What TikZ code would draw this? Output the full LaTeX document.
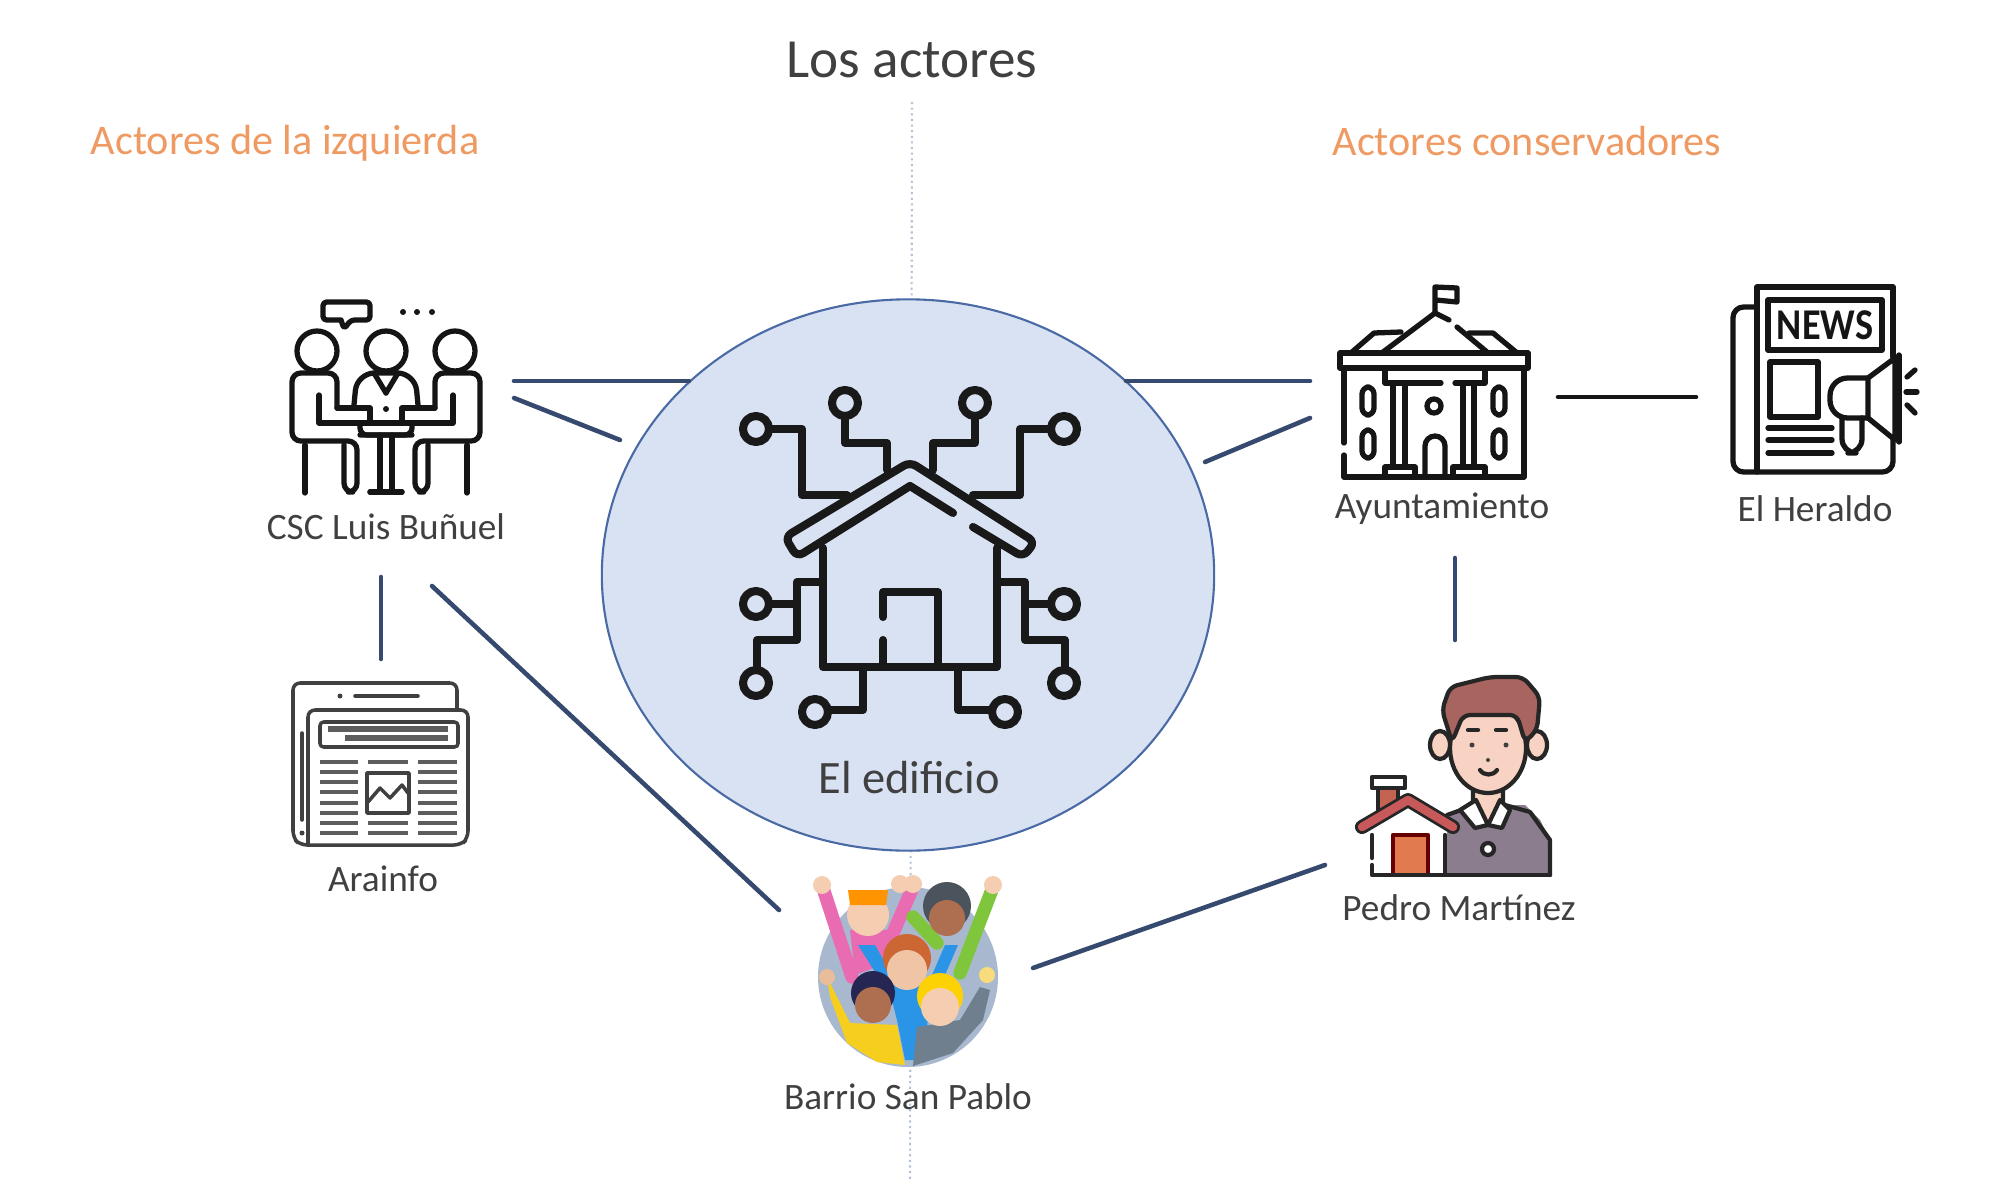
\documentclass[tikz,border=0pt]{standalone}
\usepackage{fontspec}
\usetikzlibrary{shapes.geometric}
\setmainfont{Carlito}
\definecolor{inktext}{HTML}{404040}
\definecolor{orangetext}{HTML}{EE9A62}
\definecolor{linkblue}{HTML}{36496F}
\definecolor{edificiofill}{HTML}{D9E2F3}
\definecolor{edificioline}{HTML}{4A6AA5}
\definecolor{axisline}{HTML}{B4C2D8}
\definecolor{inkicon}{HTML}{151515}
\definecolor{skin}{HTML}{F8D2C2}
\definecolor{hairbrown}{HTML}{A8645E}
\definecolor{shirtgrey}{HTML}{8C7D8E}
\definecolor{roofred}{HTML}{C7595A}
\definecolor{doororange}{HTML}{E27A50}
\definecolor{barriosky}{HTML}{A8B8CE}
\definecolor{barriopink}{HTML}{E96CB2}
\definecolor{barriogreen}{HTML}{80C63C}
\definecolor{barrioblue}{HTML}{2A94E6}
\definecolor{barrioyellow}{HTML}{F6CF1E}
\definecolor{barriogrey}{HTML}{6F7F8E}
\definecolor{fairskin}{HTML}{F5CDB0}
\definecolor{darkskin}{HTML}{AE6E50}
\tikzset{
  actorname/.style={text=inktext,font=\fontsize{10.6}{12}\selectfont,inner sep=0pt},
  heading/.style={text=orangetext,font=\fontsize{12}{14}\selectfont,inner sep=0pt},
  link/.style={draw=linkblue,line width=1.3pt,line cap=round},
  thin icon/.style={draw=inkicon,line width=1.5pt,line cap=round,line join=round},
  house icon/.style={draw=black!90,line width=2.3pt,line cap=round,line join=round},
  grey icon/.style={draw=inktext,line width=1pt,line cap=round,line join=round},
  grey row/.style={draw=inktext!85,line width=1.1pt},
  pedro/.style={draw=black!85,line width=1.2pt,line join=round,line cap=round},
  arm/.style={line width=3.8pt,line cap=round}
}
\begin{document}
\begin{tikzpicture}[x=0.01cm,y=-0.01cm]
\useasboundingbox (0,0) rectangle (2000,1179);

\draw[axisline,densely dotted,line width=0.6pt] (912,102) -- (910,1179);
\node[ellipse,draw=edificioline,fill=edificiofill,line width=0.6pt,minimum width=6.12cm,minimum height=5.51cm,inner sep=0pt] (edificio) at (908,575) {};

\node[text=inktext,font=\fontsize{15.7}{18}\selectfont,inner sep=0pt] (titulo) at (912,60) {Los actores};
\node[heading] (izquierda) at (285,143) {Actores de la izquierda};
\node[heading] (conservadores) at (1527,141) {Actores conservadores};
\node[actorname,font=\fontsize{13.2}{15}\selectfont] (edificiotxt) at (909,778) {El edificio};
\node[actorname] (csc) at (386,527) {CSC Luis Buñuel};
\node[actorname] (arainfo) at (383,879) {Arainfo};
\node[actorname] (ayto) at (1442,509) {Ayuntamiento};
\node[actorname] (heraldo) at (1815,509) {El Heraldo};
\node[actorname] (pedromtz) at (1459,908) {Pedro Martínez};
\node[actorname] (barrio) at (908,1097) {Barrio San Pablo};

\coordinate (cscA) at (514,381);
\coordinate (edifA) at (689,381);
\coordinate (cscB) at (514,398);
\coordinate (edifB) at (620,440);
\coordinate (aytoA) at (1310,381);
\coordinate (edifC) at (1126,381);
\coordinate (aytoB) at (1310,418);
\coordinate (edifD) at (1205,462);
\coordinate (aytoC) at (1558,397);
\coordinate (herC) at (1696,397);
\coordinate (aytoD) at (1455,558);
\coordinate (pedA) at (1455,640);
\coordinate (cscC) at (381,577);
\coordinate (araC) at (381,659);
\coordinate (cscD) at (432,586);
\coordinate (barA) at (779,910);
\coordinate (barB) at (1033,968);
\coordinate (pedB) at (1325,865);
\draw[link] (cscA) -- (edifA);
\draw[link] (cscB) -- (edifB);
\draw[link] (aytoA) -- (edifC);
\draw[link] (aytoB) -- (edifD);
\draw[link,draw=inkicon] (aytoC) -- (herC);
\draw[link] (aytoD) -- (pedA);
\draw[link] (cscC) -- (araC);
\draw[link] (cscD) -- (barA);
\draw[link] (barB) -- (pedB);

\foreach \x/\y in {756/429,845/403,975/403,1064/429,756/604,1064/604,756/683,1064/683,815/712,1005/712}
  \draw[house icon] (\x,\y) circle (13);
\draw[house icon] (771,429) -- (802,429) -- (802,495) -- (847,495);
\draw[house icon] (845,417) -- (845,443) -- (887,443) -- (887,470);
\draw[house icon] (975,417) -- (975,443) -- (933,443) -- (933,470);
\draw[house icon] (1049,429) -- (1020,429) -- (1020,495) -- (973,495);
\draw[house icon,rounded corners=2pt] (910,486) -- (797,557) -- (785,537) -- (910,462) -- (1035,542) -- (1023,557) -- (973,527);
\draw[house icon] (910,486) -- (953,513);
\draw[house icon] (823,548) -- (823,667) -- (997,667) -- (997,548);
\draw[house icon] (883,663) -- (883,640);
\draw[house icon] (883,617) -- (883,592) -- (938,592) -- (938,663);
\draw[house icon] (820,582) -- (797,582) -- (797,640) -- (757,640) -- (757,670);
\draw[house icon] (771,604) -- (797,604);
\draw[house icon] (1000,582) -- (1025,582) -- (1025,640) -- (1065,640) -- (1065,670);
\draw[house icon] (1025,604) -- (1049,604);
\draw[house icon] (863,670) -- (863,710) -- (830,710);
\draw[house icon] (958,670) -- (958,710) -- (990,710);

\foreach \s in {1,-1}{
\begin{scope}[shift={(386,0)},xscale=\s]
\draw[thin icon] (-69,351) circle (20);
\draw[thin icon,rounded corners=2.5pt] (-49,408) -- (-49,373) -- (-94,373) -- (-94,441) -- (-29,441) -- (-29,492) -- (-42,492) -- (-42,445);
\draw[thin icon] (-67,395) -- (-67,423) -- (-16,423) -- (-16,408) -- (-49,408);
\draw[thin icon] (-81,445) -- (-81,493);
\draw[thin icon] (-6,435) -- (-6,492);
\draw[thin icon] (-16,492) -- (16,492);
\draw[thin icon,rounded corners=2pt] (-26,423) -- (-26,435) -- (26,435);
\draw[thin icon] (-12,373) -- (0,393);
\end{scope}}
\draw[thin icon] (386,351) circle (20);
\draw[thin icon,rounded corners=5pt] (354,405) -- (357,373) -- (415,373) -- (418,405);
\draw[thin icon] (370,423) -- (402,423);
\fill[inkicon] (386,409) circle (3);
\draw[thin icon,rounded corners=1pt] (341,320) -- (323,320) -- (323,302) -- (370,302) -- (370,320) -- (351,320) -- (344,329) -- (341,320);
\foreach \x in {403,417,432}
  \fill[inkicon] (\x,312) circle (3);

\draw[grey icon,rounded corners=2pt] (457,708) -- (457,683) -- (293,683) -- (293,838) -- (300,845) -- (461,845) -- (468,838) -- (468,710) -- (308,710) -- (308,843);
\draw[grey icon] (302,733) -- (302,820);
\fill[inktext] (302,833) circle (2.5);
\fill[inktext] (340,696) circle (2.5);
\draw[grey icon] (355,696) -- (418,696);
\draw[grey icon,rounded corners=1pt] (320,722) rectangle (458,747);
\draw[grey row,line width=1.5pt] (328,729) -- (448,729);
\draw[grey row,line width=1.5pt] (345,738) -- (448,738);
\foreach \y in {762,772,782,792,803,813,823,833}{
  \draw[grey row] (320,\y) -- (358,\y);
  \draw[grey row] (418,\y) -- (457,\y);
}
\foreach \y in {762,823,833}
  \draw[grey row] (368,\y) -- (408,\y);
\draw[grey icon] (367,773) rectangle (409,813);
\draw[grey icon] (368,802) -- (380,788) -- (390,798) -- (402,785) -- (408,793);

\draw[thin icon] (1340,353) rectangle (1528,368);
\draw[thin icon] (1344,368) -- (1344,443);
\draw[thin icon] (1344,455) -- (1344,477) -- (1524,477) -- (1524,368);
\draw[thin icon] (1352,352) -- (1374,333) -- (1401,332);
\draw[thin icon] (1516,352) -- (1493,333) -- (1469,333);
\draw[thin icon] (1383,352) -- (1435,313) -- (1449,320);
\draw[thin icon] (1457,327) -- (1487,352);
\draw[thin icon] (1435,313) -- (1435,287) -- (1457,288) -- (1457,302) -- (1436,300);
\draw[thin icon] (1385,368) -- (1385,383) -- (1441,383);
\draw[thin icon] (1455,383) -- (1485,383) -- (1485,368);
\foreach \x in {1393,1405,1463,1474}
  \draw[thin icon] (\x,383) -- (\x,467);
\draw[thin icon] (1385,477) -- (1385,467) -- (1415,467) -- (1415,477);
\draw[thin icon] (1453,477) -- (1453,467) -- (1485,467) -- (1485,477);
\draw[thin icon] (1434,406) circle (7);
\draw[thin icon] (1425,477) -- (1425,446) arc (180:360:10) -- (1445,477);
\foreach \x in {1362,1493}{
  \draw[thin icon,rounded corners=2pt] (\x,387) rectangle (\x+12,415);
  \draw[thin icon,rounded corners=2pt] (\x,430) rectangle (\x+12,458);
}

\draw[thin icon] (1757,472) -- (1757,287) -- (1893,287) -- (1893,357);
\draw[thin icon,rounded corners=3pt] (1757,307) -- (1733,307) -- (1733,472) -- (1893,472) -- (1893,440);
\draw[thin icon] (1768,300) rectangle (1882,350);
\node[text=inkicon,font=\fontsize{12.5}{13}\bfseries\selectfont,inner sep=0pt] (news) at (1825,325) {\scalebox{0.87}[1]{NEWS}};
\draw[thin icon] (1770,362) rectangle (1818,417);
\foreach \y in {428,440,453}
  \draw[thin icon] (1768,\y) -- (1832,\y);
\draw[thin icon,rounded corners=5pt] (1868,378) -- (1830,378) -- (1830,418) -- (1868,418);
\draw[thin icon] (1868,378) -- (1895,358) -- (1895,440) -- (1868,418) -- cycle;
\draw[thin icon] (1899,355) -- (1899,442);
\draw[thin icon,rounded corners=4pt] (1842,418) -- (1842,453) -- (1862,453) -- (1862,418);
\draw[thin icon] (1907,377) -- (1915,370);
\draw[thin icon] (1906,392) -- (1917,392);
\draw[thin icon] (1907,405) -- (1915,413);

\fill[shirtgrey] (1447,875) -- (1447,815) -- (1475,805) -- (1525,805) -- (1540,820) -- (1550,840) -- (1550,875) -- cycle;
\draw[pedro] (1447,815) -- (1475,805);
\draw[pedro] (1505,805) -- (1530,812) -- (1550,840) -- (1550,875);
\draw[pedro,fill=skin] (1473,790) -- (1473,805) -- (1488,825) -- (1503,805) -- (1503,790);
\draw[pedro,fill=white] (1460,810) -- (1476,800) -- (1488,825) -- (1475,828) -- cycle;
\draw[pedro,fill=white] (1488,825) -- (1500,800) -- (1510,810) -- (1502,828) -- cycle;
\draw[pedro,fill=skin] (1440,745) ellipse (10 and 14);
\draw[pedro,fill=skin] (1537,745) ellipse (10 and 14);
\draw[pedro,fill=skin] (1488,748) ellipse (38 and 45);
\draw[pedro,fill=hairbrown,rounded corners=2pt] (1452,742) -- (1442,710) -- (1450,687) -- (1490,677) -- (1523,677) -- (1540,697) -- (1537,730) -- (1525,742) -- (1517,715) -- (1463,715) -- cycle;
\fill[black!75] (1472,745) circle (2.5);
\fill[black!75] (1506,745) circle (2.5);
\draw[pedro] (1468,730) -- (1478,730);
\draw[pedro] (1496,730) -- (1506,730);
\fill[black!75] (1488,760) circle (2);
\draw[pedro] (1480,770) .. controls (1484,776) and (1493,776) .. (1497,770);
\draw[pedro,fill=white] (1488,849) circle (6);
\fill[white] (1372,823) -- (1408,805) -- (1445,823) -- (1445,873) -- (1372,873) -- cycle;
\draw[pedro,fill=roofred!75!brown] (1378,788) rectangle (1398,810);
\draw[pedro,fill=white] (1372,777) rectangle (1405,788);
\draw[black!85,line width=4pt,line cap=round,line join=round] (1362,827) -- (1408,800) -- (1453,827);
\draw[roofred,line width=2.4pt,line cap=round,line join=round] (1362,827) -- (1408,800) -- (1453,827);
\draw[pedro,draw=red!40!black,fill=doororange] (1393,873) -- (1393,835) -- (1428,835) -- (1428,873);
\draw[pedro] (1372,835) -- (1372,858);
\draw[pedro] (1445,835) -- (1445,873);
\draw[pedro] (1372,865) -- (1372,875) -- (1550,875);

\fill[barriosky] (908,977) circle (90);
\fill[barriopink] (850,930) -- (895,930) -- (895,960) -- (855,975) -- cycle;
\draw[arm,barriopink] (822,885) -- (852,977);
\draw[arm,barriopink] (913,887) -- (887,947);
\fill[fairskin] (822,885) circle (9);
\fill[fairskin] (900,884) circle (9);
\fill[fairskin] (913,884) circle (9);
\fill[fairskin] (868,915) circle (21);
\fill[orange!85!yellow] (848,890) -- (888,890) -- (886,905) -- (850,905) -- cycle;
\draw[arm,barriogreen] (993,887) -- (960,973);
\draw[arm,barriogreen] (913,917) -- (937,943);
\fill[fairskin] (993,885) circle (9);
\fill[black!55!barriosky] (947,906) circle (24);
\fill[darkskin] (947,918) circle (18);
\fill[barrioblue] (858,945) -- (875,945) -- (895,980) -- (880,980) -- cycle;
\fill[barrioblue] (945,945) -- (958,945) -- (945,975) -- (932,975) -- cycle;
\fill[barrioblue] (888,985) -- (930,985) -- (925,1060) -- (905,1060) -- (897,1020) -- cycle;
\fill[brown!80!red] (907,958) circle (24);
\fill[fairskin!90!brown] (907,970) circle (20);
\fill[barrioyellow] (827,977) -- (850,1023) -- (897,1025) -- (905,1065) -- (877,1062) -- (847,1043) -- (830,997) -- cycle;
\fill[fairskin!80!brown] (827,977) circle (8);
\fill[black!75!blue!70!gray] (873,993) circle (22);
\fill[darkskin] (873,1005) circle (18);
\fill[barriogrey] (913,1066) -- (917,1027) -- (960,1020) -- (980,987) -- (990,990) -- (983,1020) -- (953,1053) -- cycle;
\fill[fairskin!70!yellow] (987,975) circle (8);
\fill[yellow!70!orange] (940,996) circle (23);
\fill[fairskin] (940,1007) circle (19);
\end{tikzpicture}
\end{document}
